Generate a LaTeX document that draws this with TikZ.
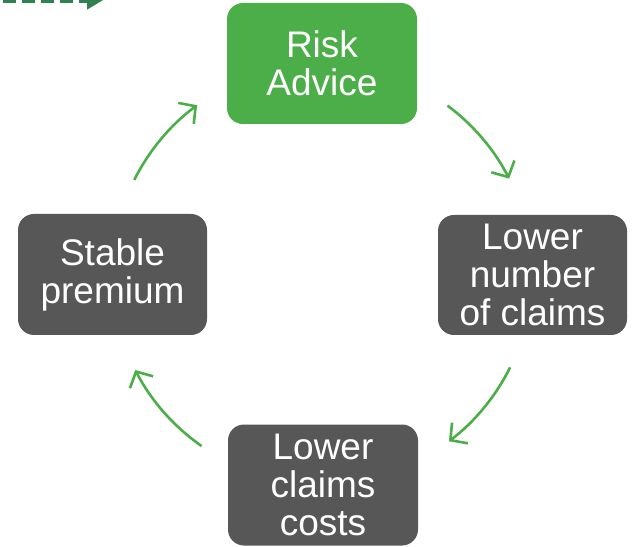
\documentclass[tikz,border=0pt]{standalone}
\usepackage{fontspec}
\setmainfont{Liberation Sans}
\usetikzlibrary{arrows.meta}
\definecolor{boxgreen}{RGB}{76,174,72}
\definecolor{boxgrey}{RGB}{87,87,87}
\definecolor{arrgreen}{RGB}{76,174,72}
\definecolor{darkgreen}{RGB}{49,128,82}
\begin{document}
\begin{tikzpicture}[x=1pt,y=1pt,
  cyclebox/.style={rounded corners=16pt, text=white, align=center,
    font=\fontsize{37}{38}\selectfont, inner sep=0pt},
  cyclearrow/.style={draw=arrgreen, line width=2.6pt,
    -{Straight Barb[length=12pt,width=26pt,line width=2.6pt]}}]
\useasboundingbox (0,0) rectangle (636,546);
\clip (0,0) rectangle (636,546);
% boxes (y measured from bottom: 546 - pixel y)
\node[cyclebox, fill=boxgreen, minimum width=190pt, minimum height=121pt] (risk) at (322,482.5) {Risk\\Advice};
\node[cyclebox, fill=boxgrey, minimum width=189pt, minimum height=120pt] (lower) at (532.5,271) {Lower\\number\\of claims};
\node[cyclebox, fill=boxgrey, minimum width=190pt, minimum height=121pt] (costs) at (323,61) {Lower\\claims\\costs};
\node[cyclebox, fill=boxgrey, minimum width=189pt, minimum height=121pt] (stable) at (112.5,271.5) {Stable\\premium};
% arrows on a circle around the centre
\coordinate (c) at (322,272);
\coordinate (a1) at ([shift={(c)}]53.3:210pt);
\coordinate (a2) at ([shift={(c)}]-26.4:210pt);
\coordinate (a3) at ([shift={(c)}]-125:210pt);
\coordinate (a4) at ([shift={(c)}]153.4:210pt);
\draw[cyclearrow] (a1) arc[start angle=53.3, end angle=27, radius=210pt];
\draw[cyclearrow] (a2) arc[start angle=-26.4, end angle=-52.8, radius=210pt];
\draw[cyclearrow] (a3) arc[start angle=-125, end angle=-152.8, radius=210pt];
\draw[cyclearrow] (a4) arc[start angle=153.4, end angle=126.5, radius=210pt];
% dashed arrow at the top left, cut by the page edge
\coordinate (d0) at (3,547);
\coordinate (d1) at (105,547);
\draw[darkgreen, line width=8pt, dash pattern=on 13pt off 6pt,
  -{Triangle[length=18pt,width=20pt]}] (d0) -- (d1);
\end{tikzpicture}
\end{document}
